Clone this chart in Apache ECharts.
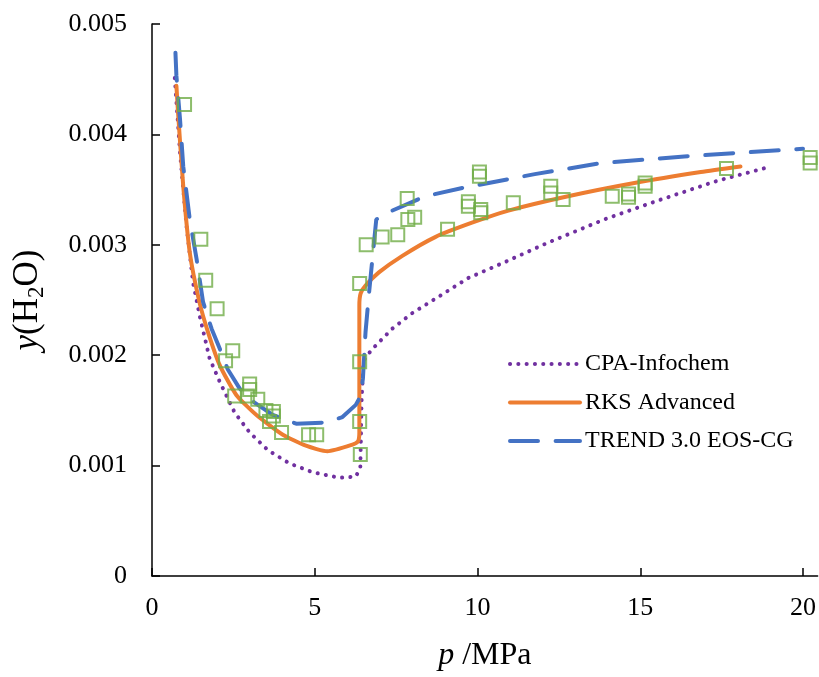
<!DOCTYPE html>
<html>
<head>
<meta charset="utf-8">
<script src="https://cdn.jsdelivr.net/npm/echarts@6/dist/echarts.min.js"></script>
<style>
html, body { margin: 0; padding: 0; background: #fff; }
#chart { width: 819px; height: 677px; }
</style>
</head>
<body>
<div id="chart"></div>
<script>
// CPA-Infochem (dotted purple)
const cpaP = [0.7, 0.86, 1.06, 1.26, 1.47, 1.77, 2.08, 2.54, 3.0, 3.56, 4.22, 4.93, 5.75, 6.26, 6.4, 6.44, 6.5, 6.67, 6.85, 7.38, 7.99, 8.86, 9.72, 10.74, 12.17, 13.9, 15.64, 17.37, 18.9];
const cpaY = [0.00451, 0.00384, 0.00317, 0.00266, 0.00235, 0.00197, 0.00176, 0.00148, 0.0013, 0.00114, 0.00102, 0.00094, 0.00089, 0.0009, 0.00098, 0.0016, 0.00195, 0.00202, 0.00208, 0.00224, 0.00238, 0.00254, 0.0027, 0.00283, 0.00302, 0.00323, 0.00341, 0.00358, 0.0037];
// RKS Advanced (solid orange)
const rksP = [0.75, 0.8, 0.96, 1.16, 1.45, 1.72, 2.08, 2.59, 3.2, 4.02, 4.73, 5.39, 6.16, 6.33, 6.37, 6.37, 6.41, 6.56, 6.97, 7.69, 8.7, 9.83, 10.95, 12.78, 14.82, 16.86, 18.08];
const rksY = [0.00444, 0.0042, 0.00353, 0.00293, 0.00249, 0.00221, 0.00191, 0.00164, 0.00146, 0.00128, 0.00118, 0.00113, 0.00119, 0.00122, 0.0013, 0.00245, 0.00256, 0.00263, 0.00275, 0.0029, 0.00307, 0.0032, 0.00331, 0.00344, 0.00356, 0.00366, 0.00371];
// TREND 3.0 EOS-CG (dashed blue)
const trendP = [0.72, 0.75, 0.86, 0.96, 1.16, 1.37, 1.57, 1.83, 2.08, 2.33, 2.69, 3.15, 3.71, 4.43, 5.34, 5.85, 6.26, 6.41, 6.48, 6.56, 6.67, 6.82, 6.89, 7.38, 8.4, 9.62, 11.76, 13.8, 16.35, 18.39, 20.0];
const trendY = [0.00474, 0.00453, 0.00414, 0.00371, 0.00323, 0.00287, 0.00248, 0.00224, 0.00206, 0.00187, 0.0017, 0.00157, 0.00146, 0.00138, 0.00139, 0.00144, 0.00155, 0.00163, 0.00179, 0.00221, 0.00257, 0.00302, 0.00323, 0.00331, 0.00344, 0.00352, 0.00364, 0.00374, 0.0038, 0.00384, 0.00387];
// experimental points (hollow green squares)
const expP = [1.0, 1.5, 1.65, 2.0, 2.48, 2.26, 3.0, 3.0, 2.54, 2.93, 3.25, 3.5, 3.73, 3.61, 3.73, 3.98, 4.81, 5.06, 6.38, 6.38, 6.4, 6.38, 6.58, 7.07, 7.55, 7.84, 7.86, 8.07, 9.08, 9.72, 9.72, 10.06, 10.06, 10.1, 10.1, 11.1, 12.25, 12.25, 12.63, 14.14, 14.64, 14.64, 15.15, 15.15, 17.65, 20.22, 20.22];
const expY = [0.00427, 0.00305, 0.00268, 0.00242, 0.00204, 0.00195, 0.00174, 0.00169, 0.00163, 0.00163, 0.0016, 0.0015, 0.00149, 0.0014, 0.00145, 0.0013, 0.00128, 0.00128, 0.00194, 0.0014, 0.0011, 0.00265, 0.003, 0.00307, 0.00309, 0.00342, 0.00323, 0.00325, 0.00314, 0.00339, 0.00335, 0.00366, 0.00362, 0.00332, 0.00329, 0.00338, 0.00353, 0.00347, 0.00341, 0.00344, 0.00346, 0.00343, 0.00356, 0.00353, 0.00369, 0.00379, 0.00374];
const xTicks = [0, 5, 10, 15, 20];

const seriesNames = ['CPA-Infochem', 'RKS Advanced', 'TREND 3.0 EOS-CG'];
const font = 'Liberation Serif';

function pairs(xs, ys) {
  return xs.map(function (x, i) { return [x, ys[i]]; });
}

const chart = echarts.init(document.getElementById('chart'));
chart.setOption({
  animation: false,
  backgroundColor: '#fff',
  grid: { left: 152, top: 24, right: 0, bottom: 98 },
  legend: {
    data: seriesNames,
    orient: 'vertical',
    left: 503,
    top: 347,
    itemWidth: 70,
    itemHeight: 14,
    itemGap: 14.5,
    itemStyle: { opacity: 0 },
    lineStyle: { width: 4 },
    textStyle: { fontFamily: font, fontSize: 24, color: '#000' }
  },
  xAxis: {
    type: 'value',
    min: 0,
    max: 20.45,
    interval: 5,
    name: '{i|p} /MPa',
    nameLocation: 'middle',
    nameGap: 64,
    nameTextStyle: {
      fontFamily: font, fontSize: 32, color: '#000',
      rich: { i: { fontFamily: font, fontSize: 32, fontStyle: 'italic', color: '#000' } }
    },
    splitLine: { show: false },
    axisLine: { lineStyle: { color: '#000', width: 1.5 } },
    axisTick: { inside: true, length: 8, lineStyle: { color: '#000', width: 1.5 }, customValues: xTicks },
    axisLabel: { customValues: xTicks, margin: 19, fontFamily: font, fontSize: 26, color: '#000' }
  },
  yAxis: {
    type: 'value',
    min: 0,
    max: 0.005,
    interval: 0.001,
    name: '{i|y}(H{s|2}O)',
    nameLocation: 'middle',
    nameRotate: 90,
    nameGap: 104,
    nameTextStyle: {
      fontFamily: font, fontSize: 35, color: '#000',
      rich: {
        i: { fontFamily: font, fontSize: 35, fontStyle: 'italic', color: '#000' },
        s: { fontFamily: font, fontSize: 23, color: '#000', padding: [18, 0, 0, 0] }
      }
    },
    splitLine: { show: false },
    axisLine: { show: true, lineStyle: { color: '#000', width: 1.5 } },
    axisTick: { show: true, inside: true, length: 8, lineStyle: { color: '#000', width: 1.5 } },
    axisLabel: {
      margin: 25, fontFamily: font, fontSize: 26, color: '#000',
      formatter: function (v) { return v === 0 ? '0' : v.toFixed(3); }
    }
  },
  series: [
    {
      name: seriesNames[0],
      type: 'line',
      data: pairs(cpaP, cpaY),
      symbol: 'none',
      color: '#7030A0',
      lineStyle: { color: '#7030A0', width: 4, type: [0.1, 8.2], cap: 'round' },
      z: 2
    },
    {
      name: seriesNames[1],
      type: 'line',
      data: pairs(rksP, rksY),
      symbol: 'none',
      smooth: 0.2,
      color: '#ED7D31',
      lineStyle: { color: '#ED7D31', width: 4, cap: 'round' },
      z: 3
    },
    {
      name: seriesNames[2],
      type: 'line',
      data: pairs(trendP, trendY),
      symbol: 'none',
      color: '#4472C4',
      lineStyle: { color: '#4472C4', width: 4, type: [28, 17.6], cap: 'round' },
      z: 4
    },
    {
      name: 'exp',
      type: 'scatter',
      data: pairs(expP, expY),
      symbol: 'rect',
      symbolSize: 13,
      itemStyle: { color: 'rgba(0,0,0,0)', borderColor: '#70AD47', borderWidth: 2 },
      z: 5
    }
  ]
});
window.addEventListener('resize', function () {
  chart.resize();
});
</script>
</body>
</html>
